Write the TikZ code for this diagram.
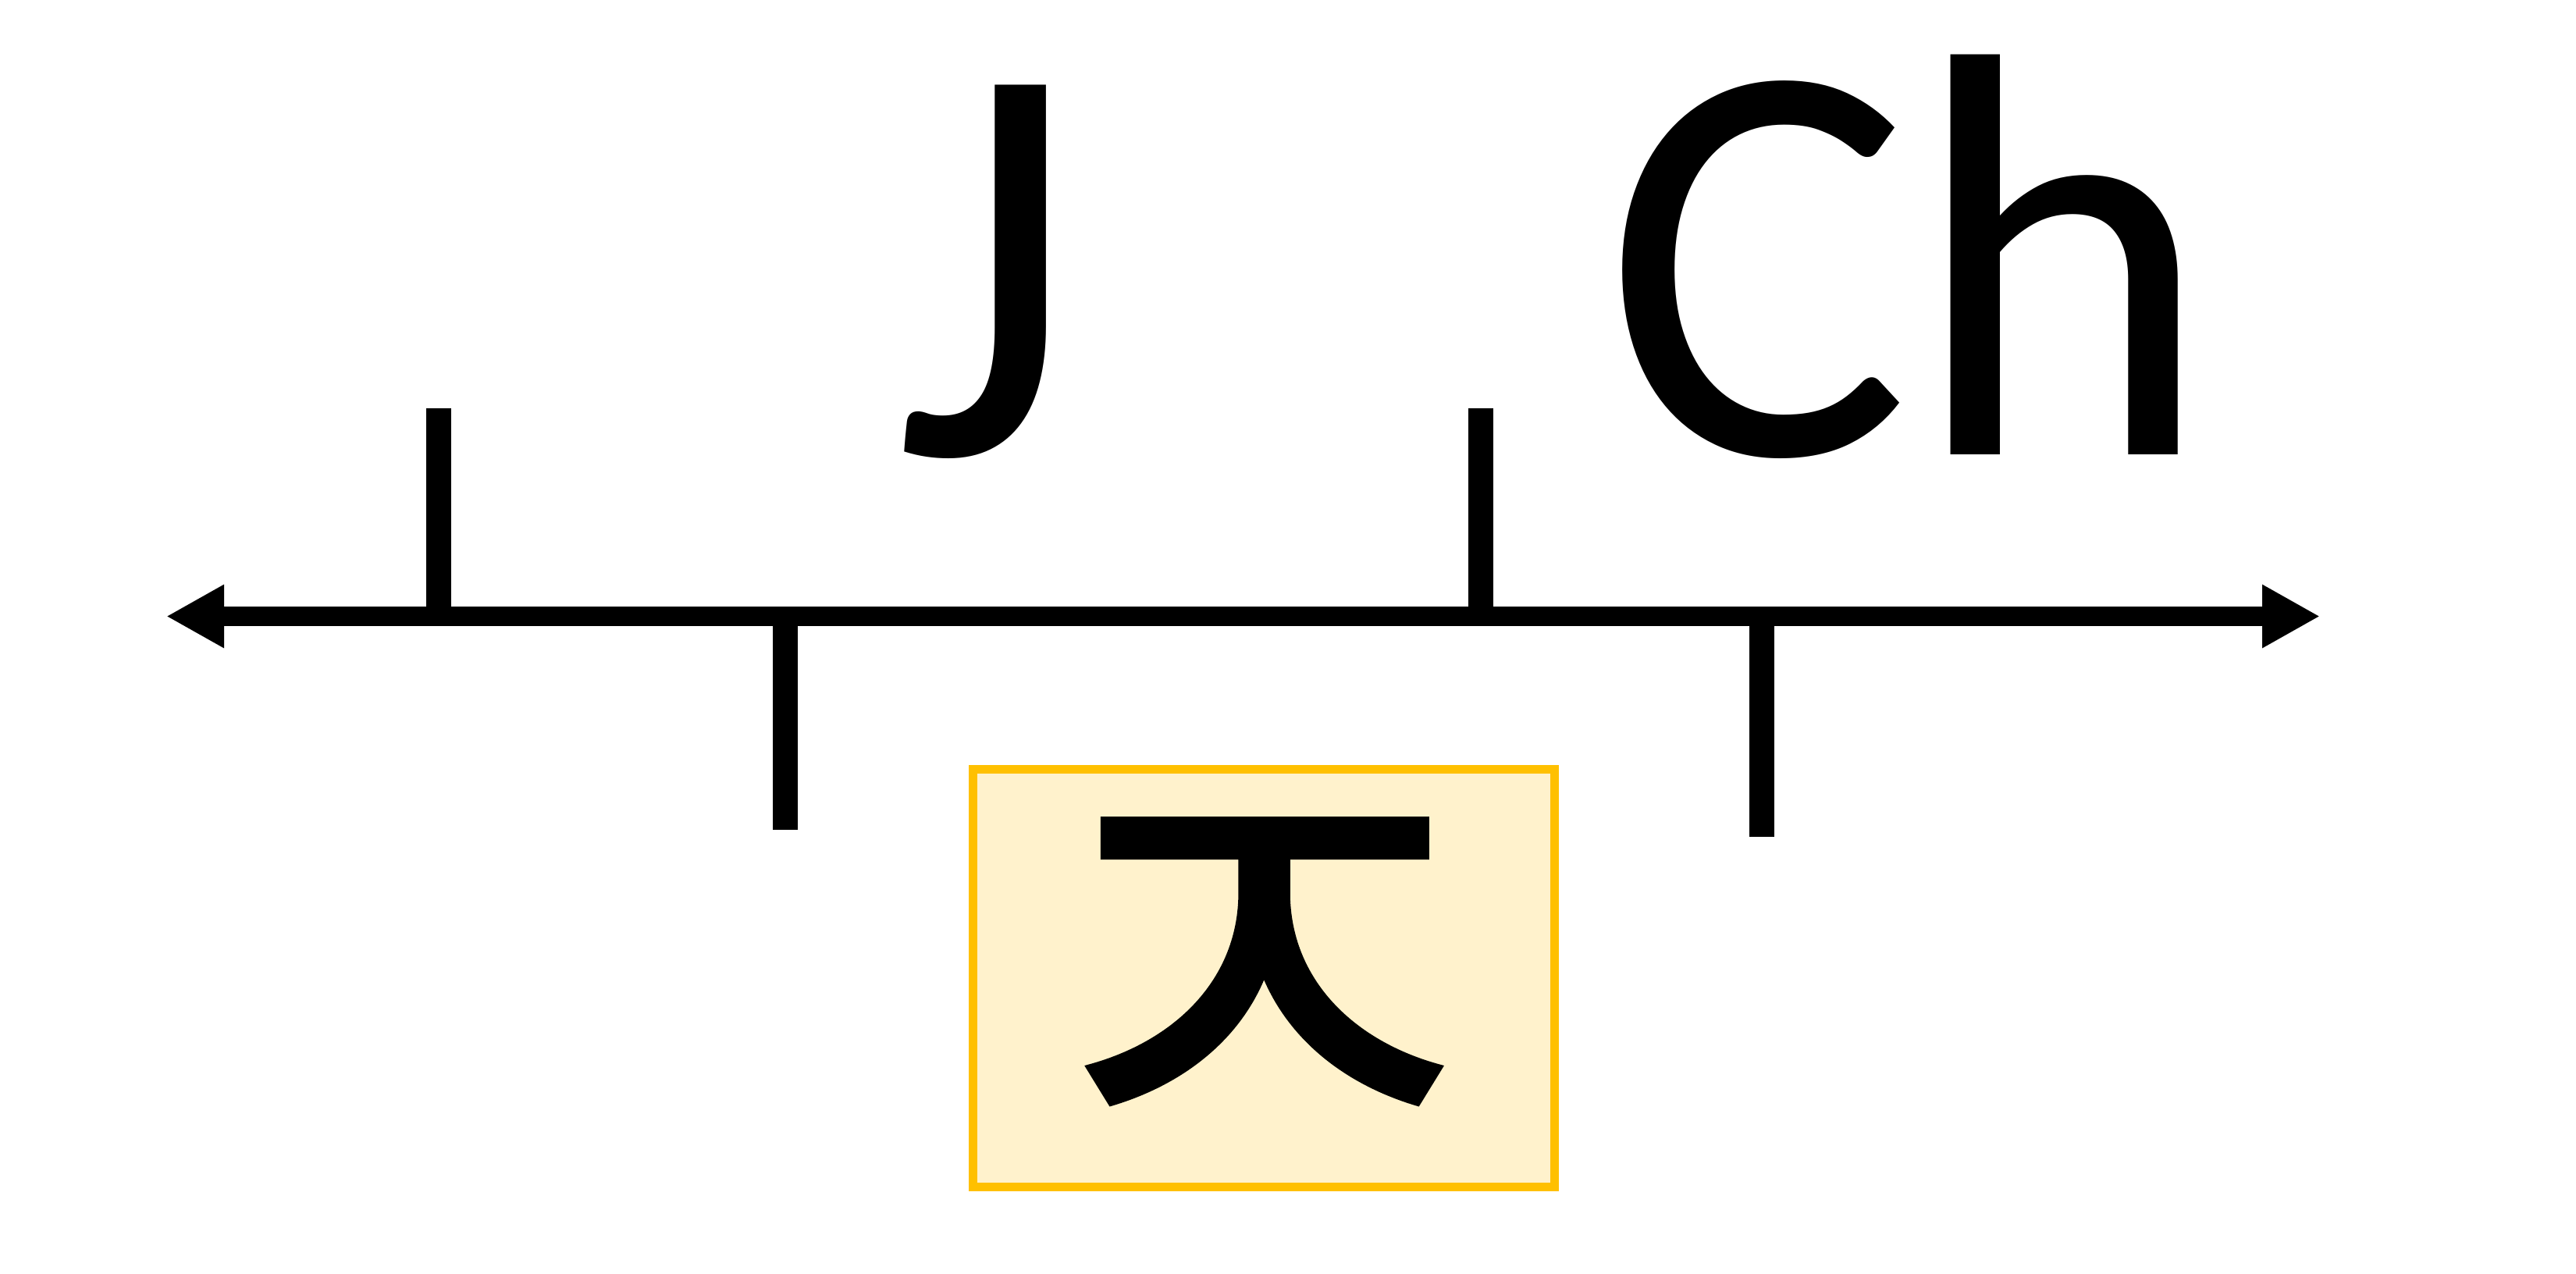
\documentclass[tikz,border=0pt]{standalone}
\usepackage{fontspec}
\setmainfont{Carlito}
\newfontfamily\kofont[FakeBold=0.6]{Noto Sans CJK KR}
\usetikzlibrary{arrows.meta}
\definecolor{boxfill}{HTML}{FFF2CC}
\definecolor{boxline}{HTML}{FFC000}

\begin{document}
\begin{tikzpicture}[x=1cm,y=1cm,
  axis/.style={line width=0.25cm,
    {Triangle[length=0.74cm,width=0.76cm]}-{Triangle[length=0.74cm,width=0.76cm]}},
  tickmark/.style={line width=0.32cm},
  letter/.style={font=\fontsize{210}{210}\selectfont, inner sep=0pt, anchor=base},
  jamobox/.style={draw=boxline, fill=boxfill, line width=0.11cm,
    minimum width=7.45cm, minimum height=5.35cm, inner sep=0pt}]
  \useasboundingbox (0,0) rectangle (33,-16.32);
  % the axis
  \coordinate (axL) at (2.13,-7.895);
  \coordinate (axR) at (29.72,-7.895);
  \draw[axis] (axL) -- (axR);
  % ticks above and below
  \foreach \x/\y [count=\i] in {5.62/-5.23, 18.97/-5.23, 10.06/-10.63, 22.57/-10.72}{
    \coordinate (b\i) at (\x,-7.895);
    \coordinate (t\i) at (\x,\y);
    \draw[tickmark] (b\i) -- (t\i);
  }
  % labels
  \node[letter] (J) at (12.64,-5.83) {J};
  \node[letter] (Ch) at (24.45,-5.83) {Ch};
  \node[jamobox] (box) at (16.19,-12.53) {};
  \node[inner sep=0pt, font=\kofont\fontsize{212}{212}\selectfont] (jieut) at (16.14,-12.8) {ㅈ};
\end{tikzpicture}
\end{document}
